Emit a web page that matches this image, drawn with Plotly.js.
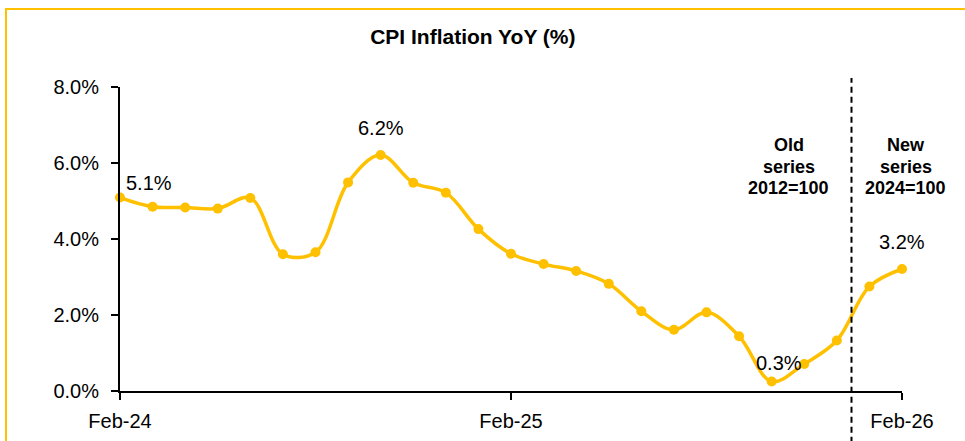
<!DOCTYPE html>
<html>
<head>
<meta charset="utf-8">
<script src="https://cdn.plot.ly/plotly-3.0.1.min.js"></script>
<style>
  html, body { margin: 0; padding: 0; background: #fff; }
  #wrap { position: relative; width: 965px; height: 441px; overflow: hidden; }
  #chart { position: absolute; left: 0; top: 0; width: 965px; height: 441px; }
  #frame { position: absolute; left: 5px; top: 8px; width: 980px; height: 460px;
           border-top: 2px solid #FFC000; border-left: 2px solid #FFC000; pointer-events: none; }
</style>
</head>
<body>
<div id="wrap">
  <div id="chart"></div>
  <div id="frame"></div>
</div>
<script>
// Data
var months = ['Feb-24','Mar-24','Apr-24','May-24','Jun-24','Jul-24','Aug-24','Sep-24','Oct-24','Nov-24','Dec-24',
              'Jan-25','Feb-25','Mar-25','Apr-25','May-25','Jun-25','Jul-25','Aug-25','Sep-25','Oct-25','Nov-25','Dec-25',
              'Jan-26','Feb-26'];
var cpi = [5.09, 4.85, 4.83, 4.80, 5.08, 3.60, 3.65, 5.49, 6.21, 5.48, 5.22,
           4.26, 3.61, 3.34, 3.16, 2.82, 2.10, 1.61, 2.07, 1.44, 0.25, 0.71, 1.33,
           2.75, 3.21];
var xTicks = ['Feb-24', 'Feb-25', 'Feb-26'];
var labelIdx = [0, 8, 20, 24];
var labelText = ['5.1%', '6.2%', '0.3%', '3.2%'];
var oldSeries = ['Old', 'series', '2012=100'];
var newSeries = ['New', 'series', '2024=100'];
var breakPos = 22.45; // between Dec-25 and Jan-26

var FONT = 'Liberation Sans, Arial, sans-serif';
var GOLD = '#FFC000';

var trace = {
  x: months, y: cpi, type: 'scatter', mode: 'lines+markers',
  line: {color: GOLD, width: 3.5, shape: 'spline', smoothing: 1},
  marker: {color: GOLD, size: 10},
  cliponaxis: false, hoverinfo: 'none'
};

var offs = [[29, 15], [0, 27], [7, 19], [0, 27]];
var annotations = [];
labelIdx.forEach(function (i, k) {
  annotations.push({
    x: months[i], y: cpi[i], xref: 'x', yref: 'y', text: labelText[k],
    showarrow: false, xshift: offs[k][0], yshift: offs[k][1],
    font: {family: FONT, size: 20, color: '#000'}
  });
});
var lineY = [0.809, 0.737, 0.668];
oldSeries.forEach(function (t, k) {
  annotations.push({x: 0.855, y: lineY[k], xref: 'paper', yref: 'paper', text: t, showarrow: false,
    xanchor: 'center', yanchor: 'middle', font: {family: FONT, size: 18, color: '#000', weight: 700}});
});
newSeries.forEach(function (t, k) {
  annotations.push({x: 1.0045, y: lineY[k], xref: 'paper', yref: 'paper', text: t, showarrow: false,
    xanchor: 'center', yanchor: 'middle', font: {family: FONT, size: 18, color: '#000', weight: 700}});
});

var layout = {
  width: 965, height: 441,
  margin: {l: 120, r: 63, t: 87, b: 50, pad: 0},
  paper_bgcolor: '#fff', plot_bgcolor: '#fff',
  showlegend: false,
  title: {text: 'CPI Inflation YoY (%)', x: 0.49, xref: 'container', y: 0.918, yref: 'container',
          xanchor: 'center', yanchor: 'middle',
          font: {family: FONT, size: 21, color: '#000', weight: 700}},
  xaxis: {
    type: 'category', range: [0, 24], showgrid: false, zeroline: false,
    showline: true, linecolor: '#000', linewidth: 2,
    ticks: 'outside', ticklen: 7, tickwidth: 2, tickcolor: '#000',
    tickmode: 'array', tickvals: xTicks, ticktext: xTicks,
    tickfont: {family: FONT, size: 20, color: '#000'}, ticklabelstandoff: 4
  },
  yaxis: {
    range: [0, 8], dtick: 2, tick0: 0, tickformat: '.1f', ticksuffix: '%',
    showgrid: false, zeroline: false, showline: true, linecolor: '#000', linewidth: 2,
    ticks: 'outside', ticklen: 7, tickwidth: 2, tickcolor: '#000',
    tickfont: {family: FONT, size: 20, color: '#000'}, ticklabelstandoff: 8
  },
  shapes: [{
    type: 'line', xref: 'x', yref: 'paper', x0: breakPos, x1: breakPos, y0: -0.17, y1: 1.03,
    line: {color: '#000', width: 2, dash: '6px,4px'}
  }],
  annotations: annotations
};

Plotly.newPlot('chart', [trace], layout, {displayModeBar: false, staticPlot: true});
</script>
</body>
</html>
